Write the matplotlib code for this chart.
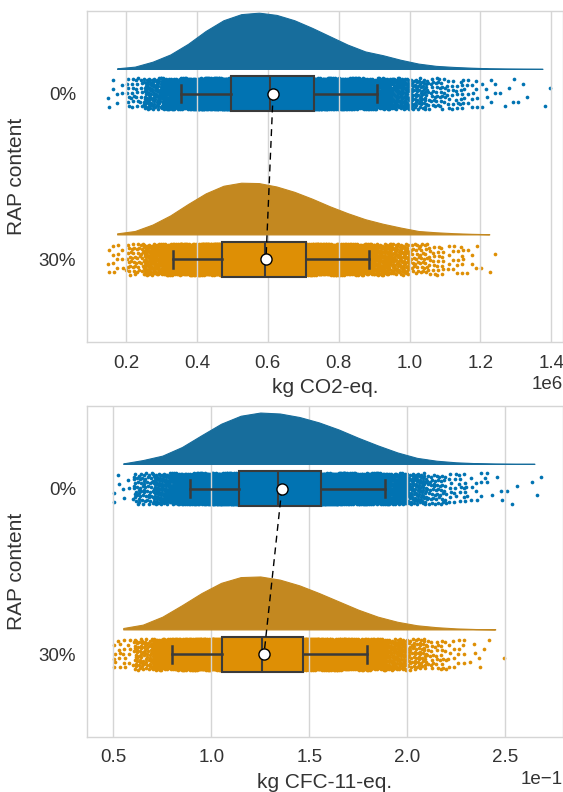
import matplotlib
matplotlib.use("Agg")
import matplotlib.pyplot as plt
import numpy as np

plt.rcParams["font.family"] = ["Liberation Sans", "DejaVu Sans"]
plt.rcParams["text.color"] = "#333333"
plt.rcParams["xtick.color"] = "#333333"
plt.rcParams["ytick.color"] = "#333333"
plt.rcParams["axes.labelcolor"] = "#333333"

GROUPS = ["0%", "30%"]
DOT_COLORS = ["#0173B2", "#DE8F05"]
CLOUD_COLORS = ["#176D9C", "#C38820"]

# kg CO2-eq. (in 1e6), Monte Carlo runs counted in bins of 0.05
co2_unit = 1e6
co2_bin_width = 0.05
co2_bins = [0.10, 0.15, 0.20, 0.25, 0.30, 0.35, 0.40, 0.45, 0.50, 0.55, 0.60, 0.65, 0.70,
            0.75, 0.80, 0.85, 0.90, 0.95, 1.00, 1.05, 1.10, 1.15, 1.20, 1.25, 1.30, 1.35]
co2_counts_0 = [0, 8, 30, 95, 190, 330, 500, 640, 720, 740, 710, 640, 540,
                430, 320, 230, 180, 120, 70, 40, 26, 16, 8, 5, 3, 2]
co2_counts_30 = [0, 14, 45, 130, 250, 400, 540, 640, 680, 675, 630, 560, 470,
                 370, 280, 200, 140, 90, 45, 28, 16, 8, 3, 0, 0, 0]
co2_whislo = [0.356, 0.332]
co2_q1 = [0.495, 0.471]
co2_med = [0.605, 0.591]
co2_q3 = [0.730, 0.707]
co2_whishi = [0.908, 0.887]
co2_mean = [0.615, 0.595]

# kg CFC-11-eq. (in 1e-1), bins of 0.1
cfc_unit = 1e-1
cfc_bin_width = 0.1
cfc_bins = [0.40, 0.50, 0.60, 0.70, 0.80, 0.90, 1.00, 1.10, 1.20, 1.30, 1.40, 1.50,
            1.60, 1.70, 1.80, 1.90, 2.00, 2.10, 2.20, 2.30, 2.40, 2.50, 2.60]
cfc_counts_0 = [0, 8, 60, 130, 265, 450, 630, 755, 805, 790, 735, 650,
                540, 410, 290, 180, 95, 50, 25, 12, 6, 3, 3]
cfc_counts_30 = [0, 22, 75, 200, 380, 570, 730, 820, 830, 780, 690, 570,
                 440, 310, 200, 120, 65, 35, 16, 6, 2, 0, 0]
cfc_whislo = [0.892, 0.800]
cfc_q1 = [1.140, 1.053]
cfc_med = [1.338, 1.260]
cfc_q3 = [1.562, 1.469]
cfc_whishi = [1.887, 1.796]
cfc_mean = [1.360, 1.269]

JITTER = 0.095
BOX_W = 0.21
CLOUD_OFFSET = 0.15
EDGE = "#3a3a3a"


def strip(ax, bins, width, counts, pos, unit, color):
    xs, ys = [], []
    n = 0
    for lo, c in zip(bins, counts):
        k = np.arange(n, n + c)
        xs.append(lo + ((0.5 + 0.7548776662 * k) % 1.0) * width)
        ys.append(pos + (((0.5 + 0.5698402910 * k) % 1.0) - 0.5) * 2 * JITTER)
        n += c
    ax.scatter(np.concatenate(xs) * unit, np.concatenate(ys), s=7, color=color,
               linewidths=0, zorder=0.2)


def cloud(ax, bins, width, counts, pos, unit, scale, color):
    counts = np.asarray(counts, dtype=float)
    nz = np.nonzero(counts)[0]
    b = np.asarray(bins)[nz[0]:nz[-1] + 1]
    c = counts[nz[0]:nz[-1] + 1]
    x = np.concatenate([[b[0] + width / 2], b + width / 2, [b[-1] + width / 2]]) * unit
    h = np.concatenate([[0], c, [0]]) * scale
    base = pos - CLOUD_OFFSET
    ax.fill_between(x, base, base - h, facecolor=color, edgecolor=color,
                    linewidth=0.8, zorder=1)


def raincloud(ax, bins, width, counts, whislo, q1, med, q3, whishi, mean,
              unit, height, xlabel, xlim):
    peak = max(max(c) for c in counts)
    for i, c in enumerate(counts):
        strip(ax, bins, width, c, i, unit, DOT_COLORS[i])
        cloud(ax, bins, width, c, i, unit, height / peak, CLOUD_COLORS[i])
    stats = [dict(whislo=whislo[i] * unit, q1=q1[i] * unit, med=med[i] * unit,
                  q3=q3[i] * unit, whishi=whishi[i] * unit, fliers=[])
             for i in range(len(GROUPS))]
    bp = ax.bxp(stats, positions=range(len(GROUPS)), widths=BOX_W, capwidths=BOX_W / 2,
                orientation="horizontal", patch_artist=True, showfliers=False,
                boxprops=dict(edgecolor=EDGE, linewidth=1.5),
                whiskerprops=dict(color=EDGE, linewidth=1.8),
                capprops=dict(color=EDGE, linewidth=1.8),
                medianprops=dict(color=EDGE, linewidth=1.5),
                manage_ticks=False, zorder=2)
    for patch, col in zip(bp["boxes"], DOT_COLORS):
        patch.set_facecolor(col)
    means = np.asarray(mean) * unit
    ax.plot(means, range(len(GROUPS)), color="black", linestyle=(0, (5, 3.5)),
            linewidth=1.0, zorder=3)
    ax.plot(means, range(len(GROUPS)), linestyle="none", marker="o", markersize=8,
            markerfacecolor="white", markeredgecolor="black", markeredgewidth=1.0,
            zorder=4)

    ax.set_ylim(1.5, -0.5)
    ax.set_xlim(xlim[0] * unit, xlim[1] * unit)
    ax.set_yticks(range(len(GROUPS)))
    ax.set_yticklabels(GROUPS)
    ax.set_ylabel("RAP content", fontsize=15, labelpad=9)
    ax.set_xlabel(xlabel, fontsize=15, labelpad=5)
    ax.ticklabel_format(axis="x", style="sci", scilimits=(0, 0))
    ax.xaxis.get_offset_text().set_fontsize(13.5)
    ax.tick_params(axis="x", length=0, labelsize=13.5, pad=9)
    ax.tick_params(axis="y", length=0, labelsize=13.5, pad=8)
    ax.grid(axis="x", color="#d5d5d5", linewidth=1.0)
    ax.grid(axis="y", visible=False)
    ax.set_axisbelow(True)
    for sp in ax.spines.values():
        sp.set_color("#d5d5d5")
        sp.set_linewidth(1.0)


W, H = 563, 792
fig = plt.figure(figsize=(W / 100, H / 100), dpi=100)
ax1 = fig.add_axes([87 / W, 1 - 342 / H, (W - 87) / W, 331 / H])
ax2 = fig.add_axes([87 / W, 1 - 737 / H, (W - 87) / W, 331 / H])

raincloud(ax1, co2_bins, co2_bin_width, [co2_counts_0, co2_counts_30],
          co2_whislo, co2_q1, co2_med, co2_q3, co2_whishi, co2_mean,
          co2_unit, 0.34, "kg CO2-eq.", (0.09, 1.433))
raincloud(ax2, cfc_bins, cfc_bin_width, [cfc_counts_0, cfc_counts_30],
          cfc_whislo, cfc_q1, cfc_med, cfc_q3, cfc_whishi, cfc_mean,
          cfc_unit, 0.32, "kg CFC-11-eq.", (0.365, 2.796))

fig.savefig("out.png", dpi=100)
